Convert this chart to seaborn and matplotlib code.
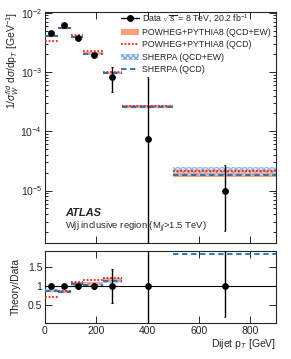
import numpy as np
import matplotlib
matplotlib.use("Agg")
import matplotlib.pyplot as plt
from matplotlib.lines import Line2D
from matplotlib.patches import Patch
from matplotlib.ticker import MultipleLocator, LogLocator, NullFormatter, NullLocator
import seaborn as sns

# data
bin_edges = [0, 50, 100, 150, 225, 300, 500, 900]
data_x = [25, 75, 130, 190, 262, 400, 700]
data_y = [4.6e-3, 6.3e-3, 3.7e-3, 1.96e-3, 8.3e-4, 7.5e-5, 1.0e-5]
data_err_lo = [2.3e-4, 2.5e-4, 2.2e-4, 1.6e-4, 3.65e-4, 7.5e-4, 7.9e-6]
data_err_hi = [2.3e-4, 2.5e-4, 2.2e-4, 1.6e-4, 3.65e-4, 7.5e-4, 1.7e-5]

powheg_ew = [4.05e-3, 5.5e-3, 3.95e-3, 2.1e-3, 9.7e-4, 2.6e-4, 2.0e-5]
powheg_ew_unc = [1.8e-4, 2.3e-4, 1.6e-4, 9e-5, 4.5e-5, 1.3e-5, 3e-6]
powheg_qcd = [3.36e-3, 5.6e-3, 4.15e-3, 2.29e-3, 1.0e-3, 2.7e-4, 2.1e-5]
sherpa_ew = [4.1e-3, 5.5e-3, 3.9e-3, 2.05e-3, 9.5e-4, 2.55e-4, 2.2e-5]
sherpa_ew_unc = [1.5e-4, 2.0e-4, 1.5e-4, 8e-5, 4e-5, 1.2e-5, 3.4e-6]
sherpa_qcd = [4.07e-3, 5.45e-3, 3.9e-3, 2.03e-3, 9.5e-4, 2.55e-4, 1.85e-5]

legend_labels = ["Data $\\sqrt{s}$ = 8 TeV, 20.2 fb$^{-1}$",
                 "POWHEG+PYTHIA8 (QCD+EW)",
                 "POWHEG+PYTHIA8 (QCD)",
                 "SHERPA (QCD+EW)",
                 "SHERPA (QCD)"]

sns.set_style("ticks")
plt.rcParams['font.family'] = ['Liberation Sans', 'DejaVu Sans']
plt.rcParams['mathtext.fontset'] = 'custom'
plt.rcParams['mathtext.rm'] = 'Liberation Sans'
plt.rcParams['mathtext.it'] = 'Liberation Sans:italic'
plt.rcParams['hatch.linewidth'] = 0.6

c_orange = '#f9a27a'
c_red = '#ff1a1a'
c_blue = '#1f6fb4'
c_lblue = '#d3e3f7'
c_hatch = '#5b95d8'

edges = np.array(bin_edges, dtype=float)
left, right = edges[:-1], edges[1:]
widths = right - left
dx = np.array(data_x)
dy = np.array(data_y)
elo = np.array(data_err_lo)
ehi = np.array(data_err_hi)

fig = plt.figure(figsize=(2.91, 3.59), dpi=100)
ax = fig.add_axes([0.1546, 0.323, 0.794, 0.6436])
rx = fig.add_axes([0.1546, 0.101, 0.794, 0.2007], sharex=ax)


def draw_theory(a, scale, ymax=np.inf):
    pe = np.array(powheg_ew) / scale
    pu = np.array(powheg_ew_unc) / scale
    se = np.array(sherpa_ew) / scale
    su = np.array(sherpa_ew_unc) / scale
    # like ROOT: boxes reaching past the frame top are not drawn
    okp = pe + pu < ymax
    oks = se + su < ymax
    a.bar(left[okp], 2 * pu[okp], bottom=(pe - pu)[okp], width=widths[okp], align='edge',
          color=c_orange, lw=0, zorder=2)
    a.bar(left[oks], 2 * su[oks], bottom=(se - su)[oks], width=widths[oks], align='edge',
          facecolor=c_lblue, edgecolor=c_hatch, hatch='xxxxxx', lw=0, alpha=0.75, zorder=3)
    a.hlines(pe[okp], left[okp], right[okp], color=c_orange, lw=1.0, zorder=3)
    a.hlines(np.array(powheg_qcd) / scale, left, right, color=c_red, lw=1.3,
             linestyles=(0, (1, 1)), zorder=4)
    a.hlines(np.array(sherpa_qcd) / scale, left, right, color=c_blue, lw=1.3,
             linestyles=(0, (3, 2)), zorder=4)


# main panel
draw_theory(ax, 1.0)
ax.set_yscale('log')
lo_end = np.maximum(dy - elo, 1e-9)
ax.vlines(dx, lo_end, dy + ehi, color='black', lw=1.0, zorder=5)
ax.hlines(np.concatenate([lo_end, dy + ehi]), np.concatenate([dx, dx]) - 3,
          np.concatenate([dx, dx]) + 3, color='black', lw=0.8, zorder=5)
sns.scatterplot(x=dx, y=dy, ax=ax, color='black', s=24, edgecolor='black',
                linewidth=0, zorder=6)
ax.set_xlim(0, 900)
ax.set_ylim(1.3e-6, 1.03e-2)
ax.set_ylabel("1/$\\sigma_W^{fid}$ d$\\sigma$/dp$_T$ [GeV$^{-1}$]", fontsize=7.5)
ax.yaxis.set_label_coords(-0.105, 1.0)
ax.yaxis.label.set_ha('right')
ax.xaxis.set_major_locator(MultipleLocator(200))
ax.xaxis.set_minor_locator(MultipleLocator(25))
ax.yaxis.set_major_locator(LogLocator(base=10, numticks=10))
ax.yaxis.set_minor_locator(LogLocator(base=10, subs=np.arange(2, 10), numticks=10))
ax.yaxis.set_minor_formatter(NullFormatter())
ax.tick_params(axis='x', labelbottom=False)

handles = [Line2D([], [], color='black', marker='o', ms=4, lw=1.0),
           Patch(facecolor=c_orange, edgecolor='none'),
           Line2D([], [], color=c_red, lw=1.3, ls=(0, (1, 1))),
           Patch(facecolor=c_lblue, edgecolor=c_hatch, hatch='xxxxxx', lw=0),
           Line2D([], [], color=c_blue, lw=1.3, ls=(0, (3, 2)))]
ax.legend(handles, legend_labels, loc='upper right', bbox_to_anchor=(1.0, 1.02),
          frameon=False, fontsize=6.3, handlelength=2.1, handletextpad=0.35,
          labelspacing=0.38, borderaxespad=0.2)

ax.text(0.087, 0.13, "ATLAS", transform=ax.transAxes, fontsize=8,
        fontweight='bold', style='italic', va='center')
ax.text(0.087, 0.068, "Wjj inclusive region (M$_{jj}$>1.5 TeV)", transform=ax.transAxes,
        fontsize=6.8, va='center')

# ratio panel
rtop = 1.93
draw_theory(rx, dy, ymax=rtop)
rx.axhline(1.0, color='black', lw=0.8, zorder=4)
rlo = np.maximum(1 - elo / dy, -5)
rhi = 1 + ehi / dy
rx.vlines(dx, rlo, rhi, color='black', lw=1.0, zorder=5)
rx.hlines(np.concatenate([rlo, rhi]), np.concatenate([dx, dx]) - 3,
          np.concatenate([dx, dx]) + 3, color='black', lw=0.8, zorder=5)
sns.scatterplot(x=dx, y=np.ones_like(dy), ax=rx, color='black', s=24,
                edgecolor='black', linewidth=0, zorder=6)
rx.set_ylim(0.05, rtop)
rx.set_xlim(0, 900)
rx.yaxis.set_major_locator(MultipleLocator(0.5))
rx.yaxis.set_minor_locator(NullLocator())
rx.xaxis.set_minor_locator(NullLocator())
rx.yaxis.set_major_formatter(matplotlib.ticker.FuncFormatter(lambda v, p: f"{v:g}"))
rx.set_ylabel("Theory/Data", fontsize=7.5)
rx.yaxis.set_label_coords(-0.105, 0.5)
rx.set_xlabel("Dijet p$_T$ [GeV]", fontsize=7.5)
rx.xaxis.set_label_coords(1.0, -0.2)
rx.xaxis.label.set_ha('right')
rx.xaxis.label.set_va('top')

for a in (ax, rx):
    a.tick_params(which='both', direction='in', top=True, right=True,
                  labelsize=7.5, width=0.7, pad=2)
    a.tick_params(which='major', length=5)
    a.tick_params(which='minor', length=2.5)
    for s in a.spines.values():
        s.set_linewidth(0.8)
rx.tick_params(axis='x', labelbottom=True)

fig.savefig("out.png", dpi=100)
